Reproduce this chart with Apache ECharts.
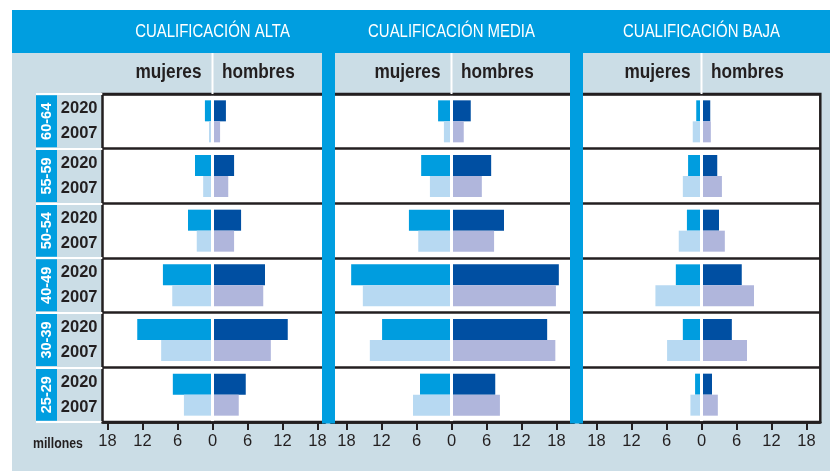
<!DOCTYPE html>
<html>
<head>
<meta charset="utf-8">
<script src="https://cdn.jsdelivr.net/npm/echarts@6/dist/echarts.min.js"></script>
<style>
  html, body { margin: 0; padding: 0; background: #ffffff; }
  #chart {
    width: 830px; height: 471px;
    background: linear-gradient(#cbdde6, #cbdde6) no-repeat 12px 10px / 818px 461px;
  }
</style>
</head>
<body>
<div id="chart"></div>
<script>
// ---------------- data ----------------
const ages = ['60-64', '55-59', '50-54', '40-49', '30-39', '25-29'];
const years = ['2020', '2007'];
const tickValues = [-18, -12, -6, 0, 6, 12, 18];
const panelTitles = ['CUALIFICACIÓN ALTA', 'CUALIFICACIÓN MEDIA', 'CUALIFICACIÓN BAJA'];
const sexLabels = ['mujeres', 'hombres'];
const unitLabel = 'millones';

// millions, in the order of `ages`
const altaMujeres2020 = [1.3, 3.0, 4.2, 8.5, 12.9, 6.8];
const altaMujeres2007 = [0.6, 1.6, 2.7, 6.9, 8.8, 4.9];
const altaHombres2020 = [2.3, 3.7, 4.9, 9.0, 12.9, 5.7];
const altaHombres2007 = [1.3, 2.7, 3.7, 8.7, 10.0, 4.5];

const mediaMujeres2020 = [2.3, 5.2, 7.3, 17.2, 11.9, 5.4];
const mediaMujeres2007 = [1.3, 3.7, 5.7, 15.2, 14.0, 6.6];
const mediaHombres2020 = [3.3, 6.8, 9.0, 18.4, 16.4, 7.5];
const mediaHombres2007 = [2.1, 5.2, 7.3, 17.9, 17.8, 8.3];

const bajaMujeres2020 = [0.9, 2.3, 2.5, 4.4, 3.2, 1.1];
const bajaMujeres2007 = [1.5, 3.2, 3.9, 7.9, 5.9, 1.9];
const bajaHombres2020 = [1.5, 2.7, 3.0, 6.9, 5.2, 1.8];
const bajaHombres2007 = [1.6, 3.5, 4.0, 9.0, 7.8, 2.8];

// ---------------- layout / style ----------------
const FONT = "'Liberation Sans', Arial, Helvetica, sans-serif";
const DARK = '#231f20';
const BLUE = '#009ee0';
const C_W2020 = '#009ddf', C_M2020 = '#004fa2', C_W2007 = '#b7d9f2', C_M2007 = '#b0b6dc';
const PX_PER_UNIT = 35 / 6;
const TOP = 94, BOTTOM_Y = 422;
const NARROW = 0.82;

const panelData = [
  { w20: altaMujeres2020, w07: altaMujeres2007, m20: altaHombres2020, m07: altaHombres2007 },
  { w20: mediaMujeres2020, w07: mediaMujeres2007, m20: mediaHombres2020, m07: mediaHombres2007 },
  { w20: bajaMujeres2020, w07: bajaMujeres2007, m20: bajaHombres2020, m07: bajaHombres2007 }
];
const panelGeom = [
  { left: 102.5, right: 325, zero: 212.5 },
  { left: 331, right: 574, zero: 451.5 },
  { left: 580, right: 820.3, zero: 701.5 }
];

const grid = [], xAxis = [], yAxis = [], series = [];
panelGeom.forEach((g, i) => {
  grid.push({
    left: g.left, top: TOP, width: g.right - g.left, height: BOTTOM_Y - TOP,
    show: true, backgroundColor: '#ffffff', borderColor: DARK, borderWidth: 2.5
  });
  xAxis.push({
    type: 'value', gridIndex: i, position: 'bottom', z: 10,
    min: -(g.zero - g.left) / PX_PER_UNIT,
    max: (g.right - g.zero) / PX_PER_UNIT,
    axisLine: { show: true, lineStyle: { color: DARK, width: 2.5 } },
    axisTick: { show: true, customValues: tickValues, length: 8, lineStyle: { color: DARK, width: 2 } },
    axisLabel: {
      show: true, customValues: tickValues, margin: 11,
      formatter: v => String(Math.abs(v)),
      color: DARK, fontFamily: FONT, fontSize: 16.5
    },
    splitLine: { show: false }
  });
  yAxis.push({
    type: 'category', gridIndex: i, data: ages, inverse: true, z: 10,
    axisLine: { show: false }, axisTick: { show: false }, axisLabel: { show: false },
    splitLine: { show: true, lineStyle: { color: DARK, width: 2.5 } }
  });
  const d = panelData[i];
  const base = { type: 'bar', xAxisIndex: i, yAxisIndex: i, barWidth: 21, barGap: '0%', silent: true };
  series.push(Object.assign({}, base, {
    name: 'mujeres 2020', stack: 'p' + i + '-2020', data: d.w20.map(v => -v),
    itemStyle: { color: C_W2020 },
    markLine: {
      silent: true, symbol: ['none', 'none'], label: { show: false },
      lineStyle: { color: '#ffffff', width: 3, type: 'solid' },
      data: [{ xAxis: 0 }]
    }
  }));
  series.push(Object.assign({}, base, {
    name: 'hombres 2020', stack: 'p' + i + '-2020', data: d.m20, itemStyle: { color: C_M2020 }
  }));
  series.push(Object.assign({}, base, {
    name: 'mujeres 2007', stack: 'p' + i + '-2007', data: d.w07.map(v => -v), itemStyle: { color: C_W2007 }
  }));
  series.push(Object.assign({}, base, {
    name: 'hombres 2007', stack: 'p' + i + '-2007', data: d.m07, itemStyle: { color: C_M2007 }
  }));
});

// year labels (panel 1, left)
yAxis.push({
  type: 'category', gridIndex: 0, data: ages, inverse: true, position: 'left', offset: 0,
  axisLine: { show: false }, axisTick: { show: false }, splitLine: { show: false },
  axisLabel: {
    interval: 0, margin: 5, formatter: () => years.join('\n'),
    color: DARK, fontFamily: FONT, fontSize: 16.5, fontWeight: 'bold', lineHeight: 25,
    padding: [4, 0, 0, 0]
  }
});
// age labels (rotated, in blue boxes)
yAxis.push({
  type: 'category', gridIndex: 0, data: ages, inverse: true, position: 'left', offset: 45.5, z: 5,
  axisLine: { show: false }, axisTick: { show: false }, splitLine: { show: false },
  axisLabel: {
    interval: 0, margin: 0, rotate: 90,
    color: '#ffffff', fontFamily: FONT, fontSize: 14.5, fontWeight: 'bold',
    backgroundColor: BLUE, width: 52, height: 21, lineHeight: 21
  }
});
// white separators of the label column
grid.push({ left: 36, top: TOP, width: 102.5 - 36, height: BOTTOM_Y - TOP, show: false });
xAxis.push({ type: 'value', gridIndex: 3, show: false });
yAxis.push({
  type: 'category', gridIndex: 3, data: ages, inverse: true, z: 6,
  axisLine: { show: false }, axisTick: { show: false }, axisLabel: { show: false },
  splitLine: { show: true, lineStyle: { color: '#ffffff', width: 2 } }
});

// decorations
const elements = [
  { type: 'rect', shape: { x: 12, y: 10, width: 818, height: 43 }, style: { fill: BLUE }, z: 100 },
  { type: 'rect', shape: { x: 322, y: 53, width: 13, height: 423.5 - 53 }, style: { fill: BLUE }, z: 100 },
  { type: 'rect', shape: { x: 570, y: 53, width: 13, height: 423.5 - 53 }, style: { fill: BLUE }, z: 100 },
  { type: 'text', x: 33, y: 444, z: 100, scaleX: NARROW,
    style: { text: unitLabel, fill: DARK, font: 'bold 15px ' + FONT, textAlign: 'left', textVerticalAlign: 'middle' } }
];
panelGeom.forEach((g, i) => {
  elements.push({ type: 'rect', shape: { x: g.zero - 1, y: 53, width: 2, height: TOP - 53 },
    style: { fill: '#ffffff' }, z: 100 });
  elements.push({ type: 'text', x: g.zero, y: 32.5, z: 101, scaleX: 0.83,
    style: { text: panelTitles[i], fill: '#ffffff', font: '18px ' + FONT, textAlign: 'center', textVerticalAlign: 'middle' } });
  elements.push({ type: 'text', x: g.zero - 11, y: 72, z: 101, scaleX: NARROW,
    style: { text: sexLabels[0], fill: DARK, font: 'bold 21px ' + FONT, textAlign: 'right', textVerticalAlign: 'middle' } });
  elements.push({ type: 'text', x: g.zero + 9.5, y: 72, z: 101, scaleX: NARROW,
    style: { text: sexLabels[1], fill: DARK, font: 'bold 21px ' + FONT, textAlign: 'left', textVerticalAlign: 'middle' } });
});

const chart = echarts.init(document.getElementById('chart'), null, { renderer: 'canvas' });
chart.setOption({
  animation: false,
  grid: grid, xAxis: xAxis, yAxis: yAxis, series: series,
  graphic: { elements: elements }
});
</script>
</body>
</html>
